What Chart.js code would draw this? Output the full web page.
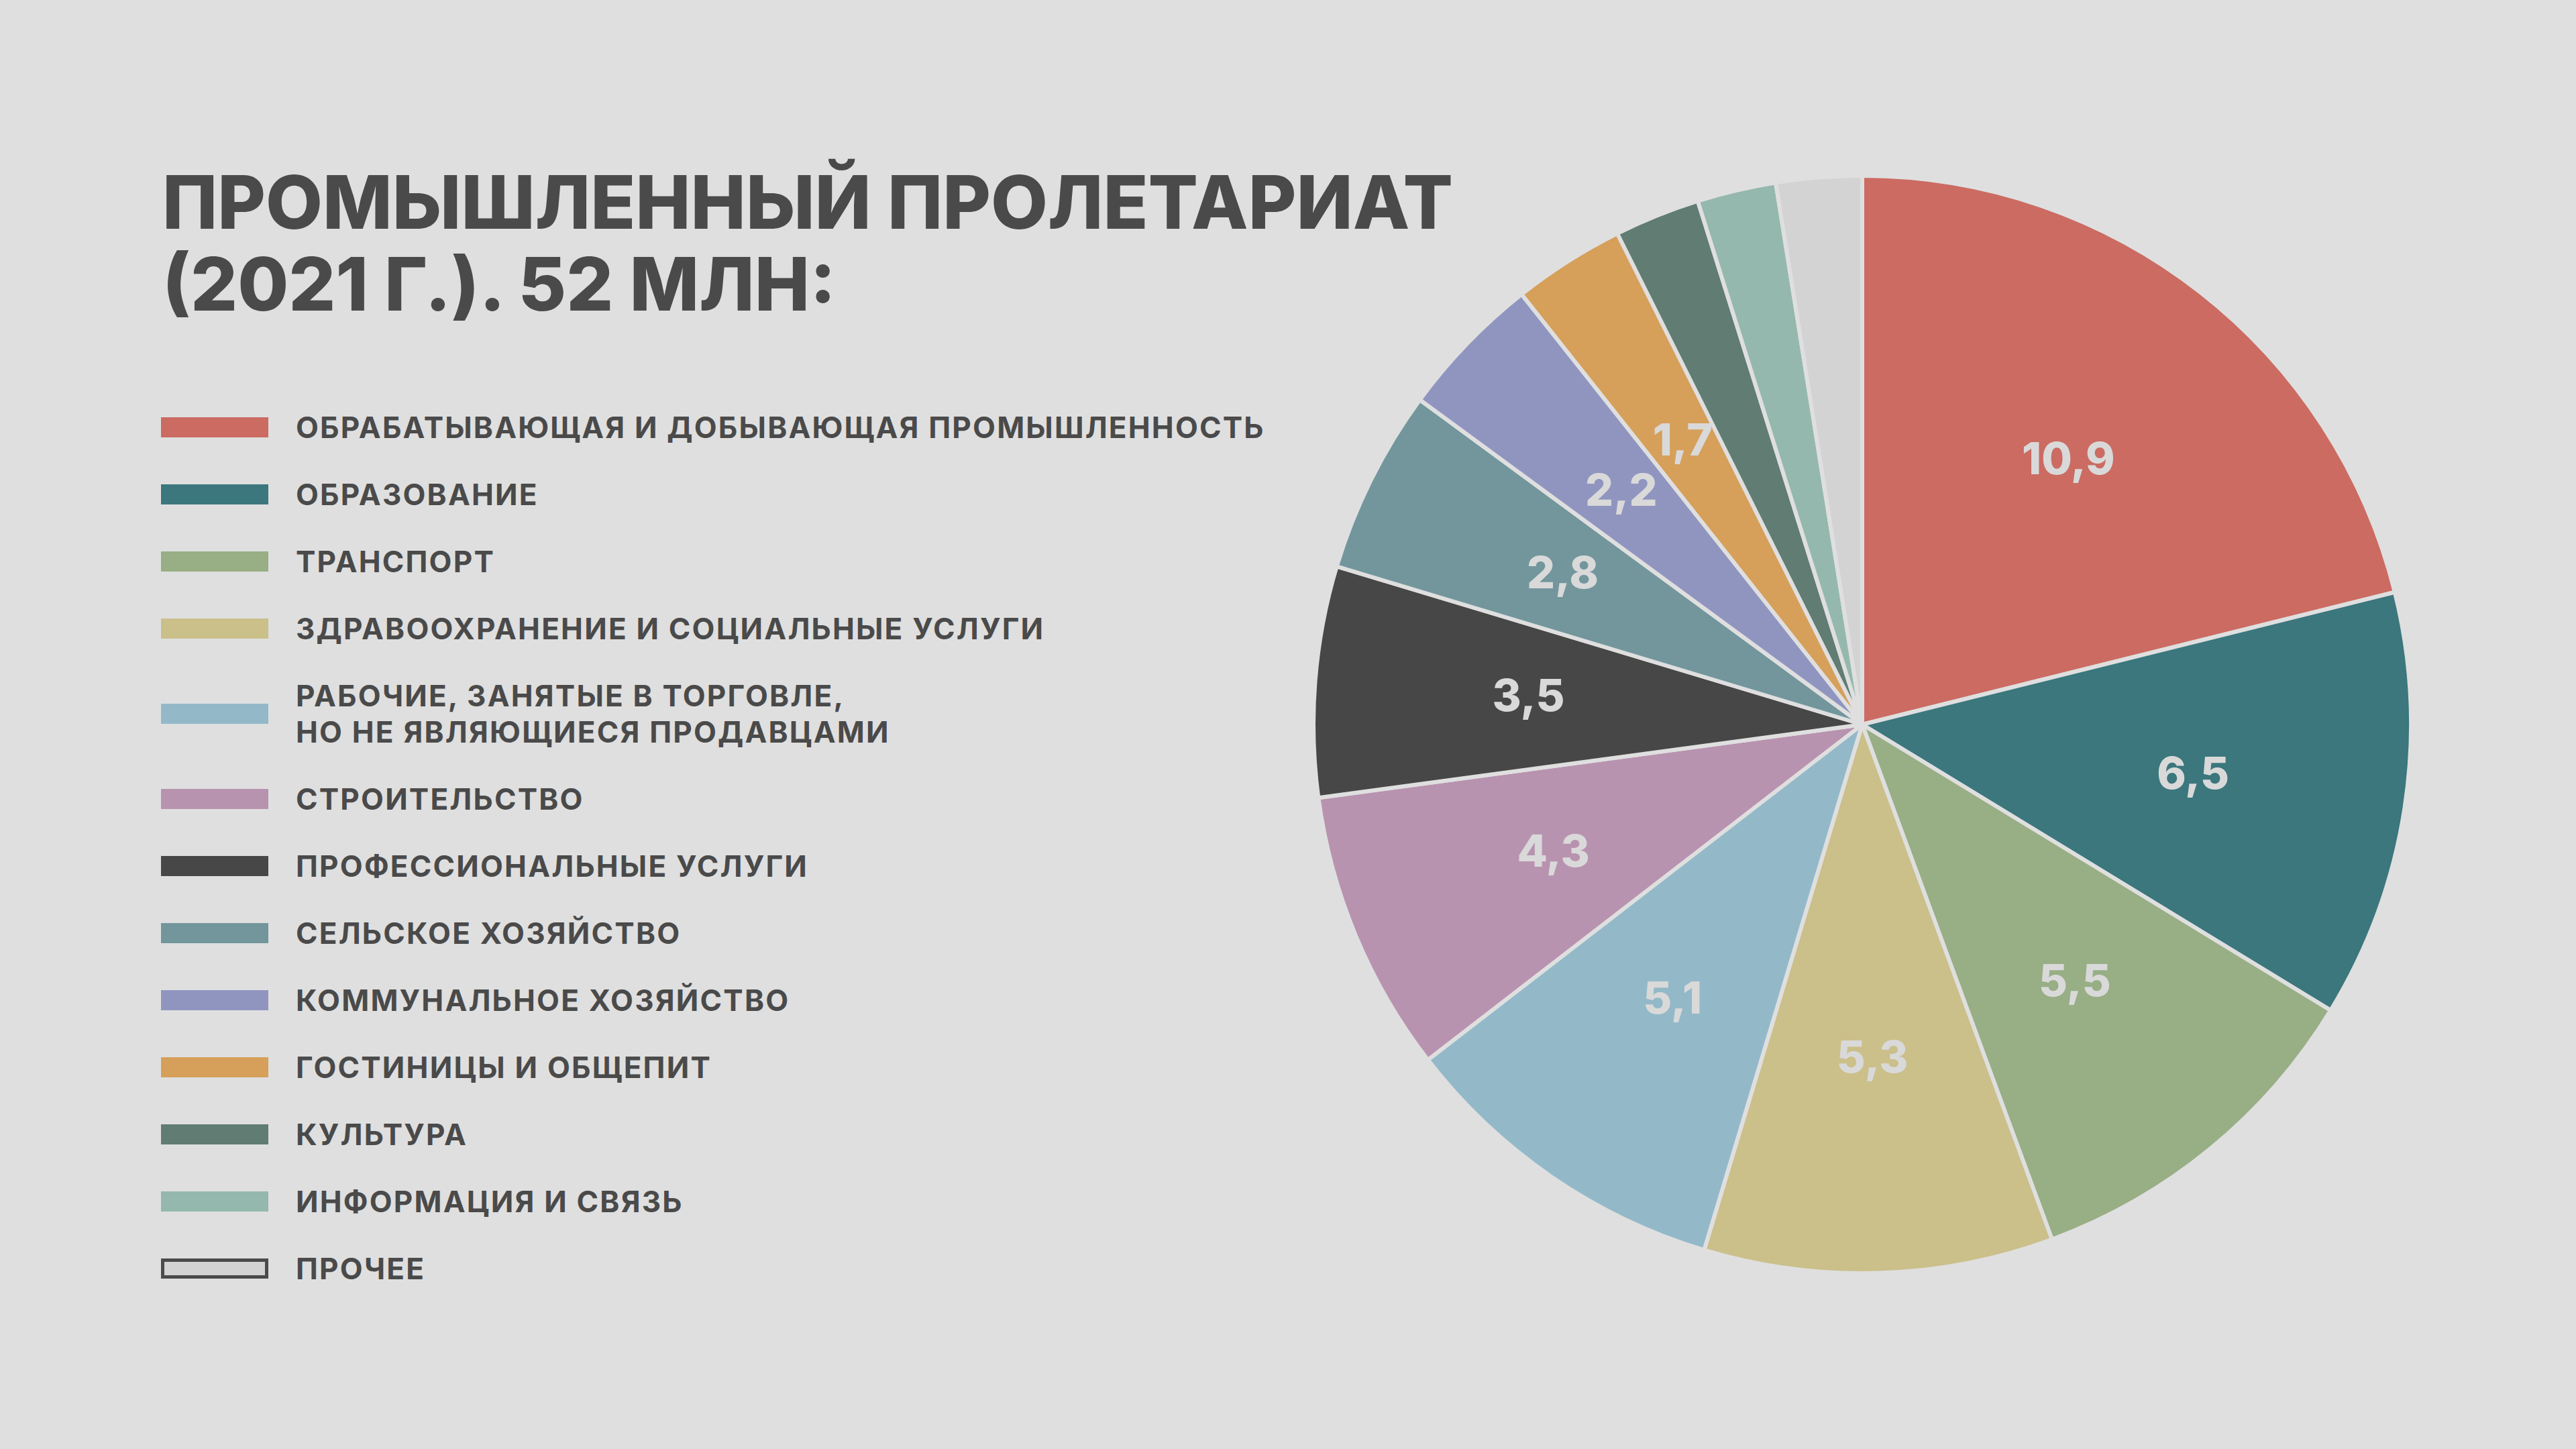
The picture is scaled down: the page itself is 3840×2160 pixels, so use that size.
<!DOCTYPE html>
<html lang="ru">
<head>
    <meta charset="UTF-8">
    <title>Промышленный пролетариат (2021 г.)</title>
    <script src="https://cdn.jsdelivr.net/npm/chart.js"></script>
    <style>
        body { margin: 0; background: #dfdfdf; }
        #page { position: relative; width: 3840px; height: 2160px; overflow: hidden; background: #dfdfdf;
                font-family: Inter, "Open Sans", sans-serif; color: #4a4a4a; }
        #title { position: absolute; left: 242px; top: 240px; margin: 0; font-size: 110px; font-weight: 800;
                 line-height: 122px; }
        #legend { position: absolute; left: 240px; top: 610px; }
        .item { display: flex; align-items: center; margin-bottom: 46px; }
        .sw { width: 160px; height: 30px; flex: none; box-sizing: border-box; }
        .txt { margin-left: 41px; font-size: 44px; font-weight: 700; line-height: 54px; letter-spacing: 2.2px; }
        #pieBox { position: absolute; left: 1955px; top: 259px; width: 1642px; height: 1642px; }
    </style>
</head>
<body>
<div id="page">
    <h1 id="title">ПРОМЫШЛЕННЫЙ ПРОЛЕТАРИАТ<br>(2021 Г.). 52 МЛН:</h1>
    <div id="legend"></div>
    <div id="pieBox"><canvas id="pie"></canvas></div>
</div>
<script>
    // отрасли (по часовой стрелке от 12 часов)
    const sectors = [
        "ОБРАБАТЫВАЮЩАЯ И ДОБЫВАЮЩАЯ ПРОМЫШЛЕННОСТЬ",
        "ОБРАЗОВАНИЕ",
        "ТРАНСПОРТ",
        "ЗДРАВООХРАНЕНИЕ И СОЦИАЛЬНЫЕ УСЛУГИ",
        ["РАБОЧИЕ, ЗАНЯТЫЕ В ТОРГОВЛЕ,", "НО НЕ ЯВЛЯЮЩИЕСЯ ПРОДАВЦАМИ"],
        "СТРОИТЕЛЬСТВО",
        "ПРОФЕССИОНАЛЬНЫЕ УСЛУГИ",
        "СЕЛЬСКОЕ ХОЗЯЙСТВО",
        "КОММУНАЛЬНОЕ ХОЗЯЙСТВО",
        "ГОСТИНИЦЫ И ОБЩЕПИТ",
        "КУЛЬТУРА",
        "ИНФОРМАЦИЯ И СВЯЗЬ",
        "ПРОЧЕЕ"
    ];
    // млн человек
    const workers = [10.9, 6.5, 5.5, 5.3, 5.1, 4.3, 3.5, 2.8, 2.2, 1.7, 1.3, 1.2, 1.3];
    const colors = ["#cb6b62", "#3b777d", "#98ae85", "#cbbf8a", "#93b9c9", "#b893b0", "#474747",
                    "#72969c", "#9095c0", "#d69f5a", "#617c72", "#95b8ae", "#d3d3d3"];

    // легенда
    const legend = document.getElementById("legend");
    sectors.forEach((name, i) => {
        const row = document.createElement("div");
        row.className = "item";
        const sw = document.createElement("div");
        sw.className = "sw";
        sw.style.background = colors[i];
        if (i === sectors.length - 1) sw.style.border = "5px solid #4a4a4a";
        const txt = document.createElement("div");
        txt.className = "txt";
        txt.innerHTML = Array.isArray(name) ? name.join("<br>") : name;
        row.appendChild(sw);
        row.appendChild(txt);
        legend.appendChild(row);
    });

    // подписи значений внутри секторов
    const sliceLabels = {
        id: "sliceLabels",
        afterDatasetsDraw(chart) {
            const ctx = chart.ctx;
            const meta = chart.getDatasetMeta(0);
            ctx.save();
            ctx.font = "800 66px Inter, 'Open Sans', sans-serif";
            ctx.fillStyle = "#d9d9d9";
            ctx.textAlign = "center";
            ctx.textBaseline = "middle";
            meta.data.forEach((arc, i) => {
                const v = workers[i];
                if (v < 1.5) return;
                const p = arc.getProps(["x", "y", "startAngle", "endAngle", "outerRadius"], true);
                const a = (p.startAngle + p.endAngle) / 2;
                const r = p.outerRadius * 0.61;
                ctx.fillText(v.toFixed(1).replace(".", ","), p.x + Math.cos(a) * r, p.y + Math.sin(a) * r);
            });
            ctx.restore();
        }
    };

    new Chart(document.getElementById("pie"), {
        type: "pie",
        data: {
            labels: sectors.map(s => Array.isArray(s) ? s.join(" ") : s),
            datasets: [{
                data: workers,
                backgroundColor: colors,
                borderColor: "#dfdfdf",
                borderWidth: 6
            }]
        },
        options: {
            responsive: true,
            maintainAspectRatio: false,
            animation: false,
            layout: { padding: 0 },
            plugins: {
                legend: { display: false },
                tooltip: { enabled: false }
            }
        },
        plugins: [sliceLabels]
    });
</script>
</body>
</html>
